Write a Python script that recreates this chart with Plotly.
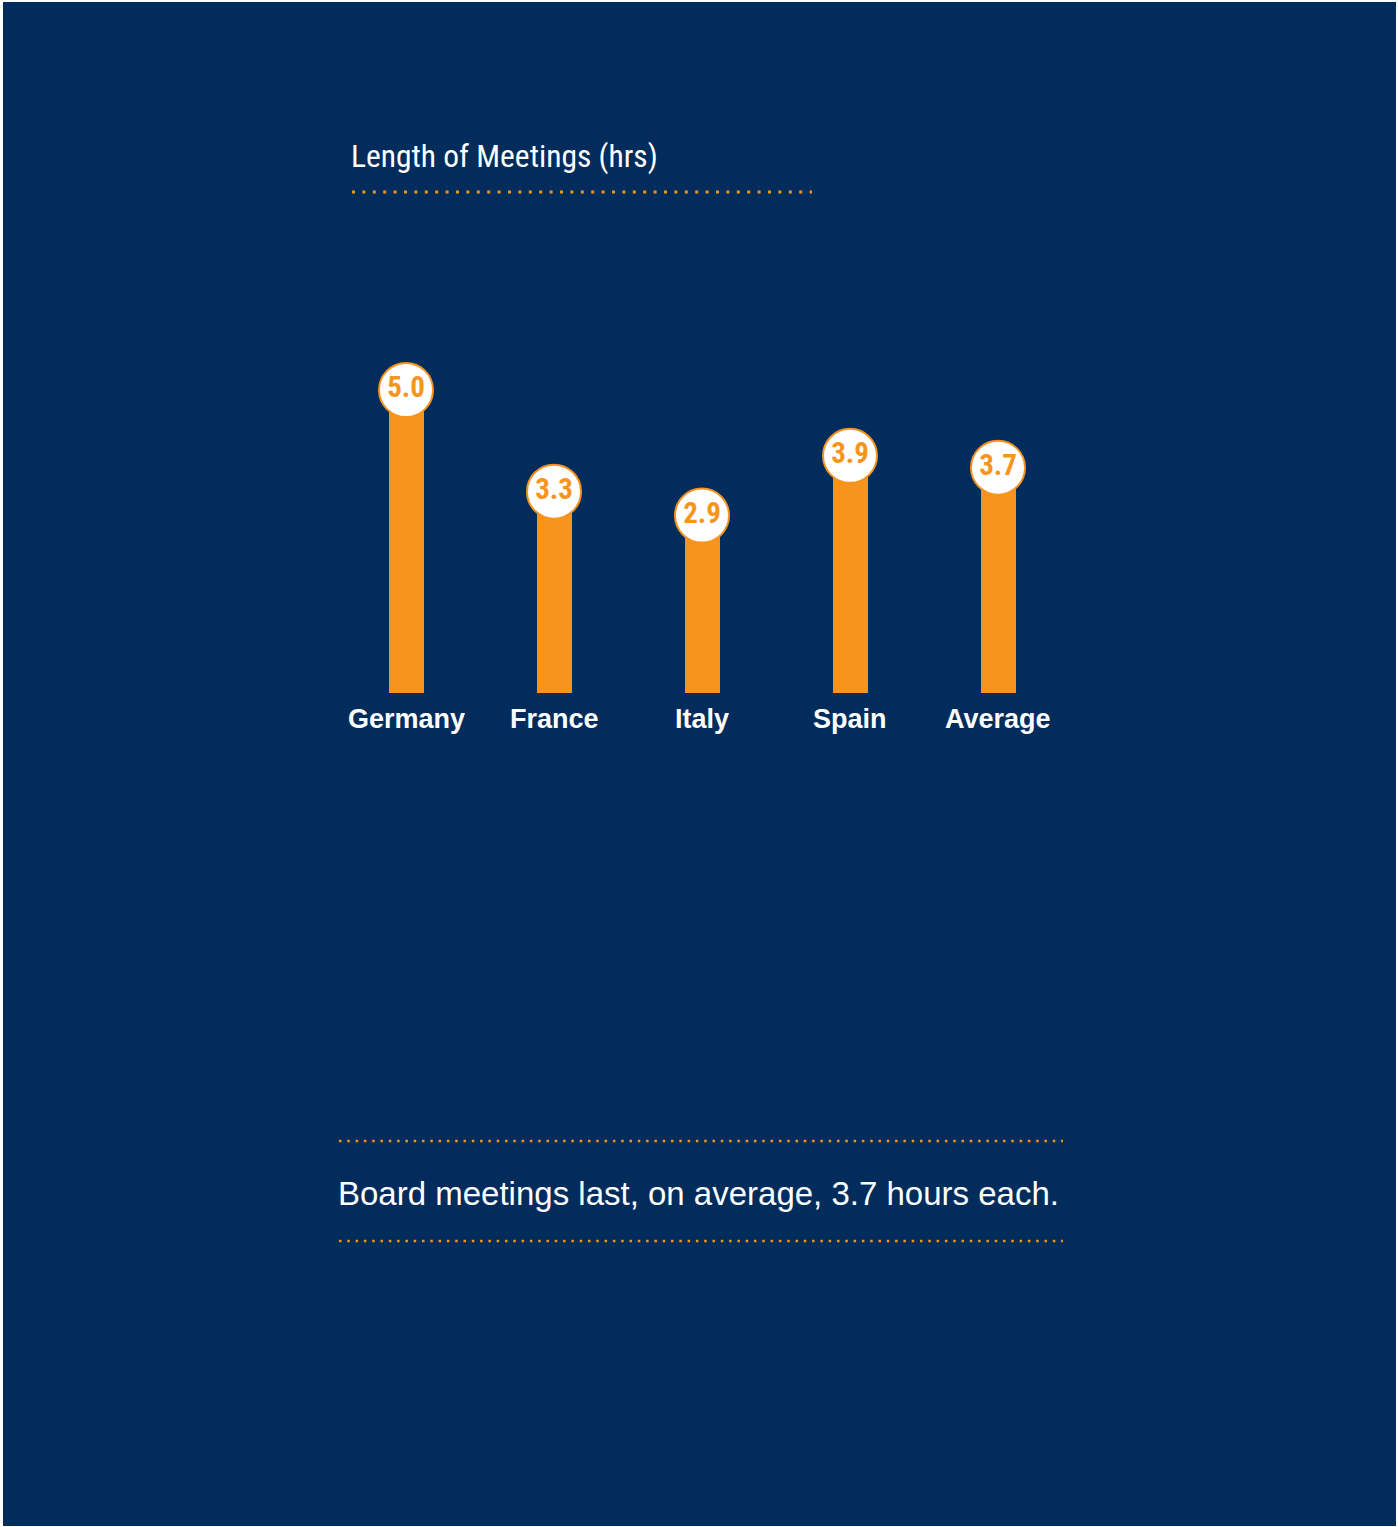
import plotly.graph_objects as go

categories = ["Germany", "France", "Italy", "Spain", "Average"]
values = [5.0, 3.3, 2.9, 3.9, 3.7]
value_labels = ["5.0", "3.3", "2.9", "3.9", "3.7"]
title_text = "Length of Meetings (hrs)"
footer_text = "Board meetings last, on average, 3.7 hours each."

W, H = 1398, 1527
NAVY = "#012C5C"
ORANGE = "#F7941D"
COND = "Roboto Condensed, Roboto, sans-serif"
SANS = "Liberation Sans, Arial, Helvetica, sans-serif"

# pixel mapping helpers (axis ranges only)
x0_px, dx_px = 406, 148          # centre of first bar, spacing
y0_px, dy_px = 689, 59.8         # pixel of value 0, pixels per unit
xr = [-x0_px / dx_px, (W - x0_px) / dx_px]
yr = [(y0_px - H) / dy_px, y0_px / dy_px]

xs = list(range(len(categories)))

fig = go.Figure()
fig.add_trace(go.Bar(
    x=xs, y=[v + 0.07 for v in values], base=-0.07,
    width=35 / dx_px, marker=dict(color=ORANGE, line=dict(width=0)),
    hoverinfo="skip", showlegend=False,
))
fig.add_trace(go.Scatter(
    x=xs, y=values, mode="markers+text",
    marker=dict(size=54, color="white", line=dict(color=ORANGE, width=2)),
    text=value_labels, textposition="middle center",
    textfont=dict(family=COND, size=29, color=ORANGE, weight="bold"),
    hoverinfo="skip", showlegend=False, cliponaxis=False,
))

annotations = []
for i, c in enumerate(categories):
    annotations.append(dict(
        x=i, y=(y0_px - 719) / dy_px, xref="x", yref="y", text=c,
        showarrow=False, xanchor="center", yanchor="middle",
        font=dict(family=SANS, size=27, color="white", weight="bold"),
    ))
annotations.append(dict(
    x=349 / W, y=1 - 157 / H, xref="paper", yref="paper", text=title_text,
    showarrow=False, xanchor="left", yanchor="middle",
    font=dict(family=COND, size=31.5, color="white"),
))
annotations.append(dict(
    x=336 / W, y=1 - 1193 / H, xref="paper", yref="paper", text=footer_text,
    showarrow=False, xanchor="left", yanchor="middle",
    font=dict(family=SANS, size=33, color="white"),
))

shapes = [
    dict(type="rect", xref="paper", yref="paper", x0=3 / W, x1=1396 / W,
         y0=1 - 1526 / H, y1=1 - 2 / H, fillcolor=NAVY, line=dict(width=0),
         layer="below"),
    dict(type="line", xref="paper", yref="paper", x0=352 / W, x1=812 / W,
         y0=1 - 192 / H, y1=1 - 192 / H,
         line=dict(color=ORANGE, width=3, dash="3px,7.4px")),
    dict(type="line", xref="paper", yref="paper", x0=339 / W, x1=1063 / W,
         y0=1 - 1141 / H, y1=1 - 1141 / H,
         line=dict(color=ORANGE, width=2.5, dash="2.5px,5.8px")),
    dict(type="line", xref="paper", yref="paper", x0=339 / W, x1=1063 / W,
         y0=1 - 1241 / H, y1=1 - 1241 / H,
         line=dict(color=ORANGE, width=2.5, dash="2.5px,5.8px")),
]

fig.update_layout(
    width=W, height=H, margin=dict(l=0, r=0, t=0, b=0),
    paper_bgcolor="white", plot_bgcolor="rgba(0,0,0,0)",
    xaxis=dict(range=xr, visible=False, fixedrange=True, domain=[0, 1]),
    yaxis=dict(range=yr, visible=False, fixedrange=True, domain=[0, 1]),
    annotations=annotations, shapes=shapes, bargap=0,
)

fig.write_html("out.html", config={"displayModeBar": False})
